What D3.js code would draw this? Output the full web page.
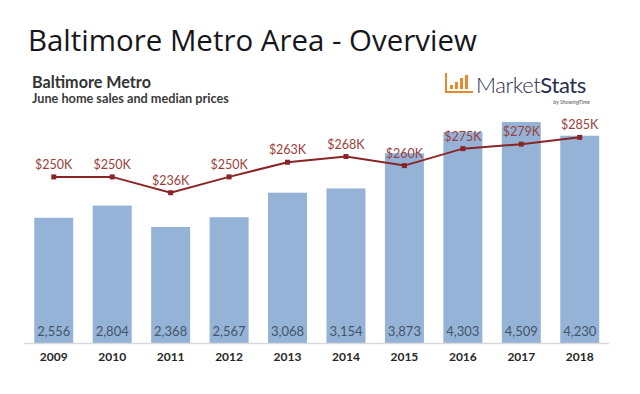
<!DOCTYPE html>
<html><head><meta charset="utf-8">
<script src="https://cdn.jsdelivr.net/npm/d3@7"></script>
<style>html,body{margin:0;padding:0;background:#fff;}svg{display:block;}</style>
</head><body>
<script>
const years = ["2009","2010","2011","2012","2013","2014","2015","2016","2017","2018"];
const sales = [2556, 2804, 2368, 2567, 3068, 3154, 3873, 4303, 4509, 4230];
const prices = [250, 250, 236, 250, 263, 268, 260, 275, 279, 285];
const salesLabels = ["2,556","2,804","2,368","2,567","3,068","3,154","3,873","4,303","4,509","4,230"];
const priceLabels = ["$250K","$250K","$236K","$250K","$263K","$268K","$260K","$275K","$279K","$285K"];

const W = 640, H = 394;
const svg = d3.select("body").append("svg").attr("width", W).attr("height", H);

function fitWidth(sel, target) {
  const fs = +sel.attr("font-size");
  const w = sel.node().getComputedTextLength();
  if (w > 0) sel.attr("font-size", fs * target / w);
}

const title = svg.append("text").attr("x", 28).attr("y", 51)
  .attr("font-family", "'Open Sans', sans-serif").attr("font-size", 27).attr("fill", "#16161c")
  .text("Baltimore Metro Area - Overview");
fitWidth(title, 449);

const st1 = svg.append("text").attr("x", 32).attr("y", 88)
  .attr("font-family", "Lato, sans-serif").attr("font-weight", "bold").attr("font-size", 15).attr("fill", "#333")
  .text("Baltimore Metro");
fitWidth(st1, 119);
const st2 = svg.append("text").attr("x", 32).attr("y", 103)
  .attr("font-family", "Lato, sans-serif").attr("font-weight", "bold").attr("font-size", 11.5).attr("fill", "#3a3a3a")
  .text("June home sales and median prices");
fitWidth(st2, 197);

// logo
const logo = svg.append("g");
logo.append("rect").attr("x", 445).attr("y", 73).attr("width", 2).attr("height", 20).attr("fill", "#e8892f");
logo.append("rect").attr("x", 445).attr("y", 91).attr("width", 28).attr("height", 2).attr("fill", "#e8892f");
[[450,85],[455,82],[460,78],[465,75]].forEach(([x,y]) => {
  logo.append("rect").attr("x", x).attr("y", y).attr("width", 3).attr("height", 89 - y).attr("fill", "#e8892f");
});
const lt = logo.append("text").attr("x", 476).attr("y", 93)
  .attr("font-family", "Lato, sans-serif").attr("font-size", 22).attr("fill", "#2b2d4b").attr("letter-spacing", -0.4);
lt.append("tspan").attr("font-weight", 300).text("Market");
lt.append("tspan").attr("font-weight", 400).text("Stats");
logo.append("text").attr("x", 590).attr("y", 104).attr("text-anchor", "end")
  .attr("font-family", "Lato, sans-serif").attr("font-style", "italic").attr("font-size", 5.5).attr("fill", "#555")
  .text("by ShowingTime");

// scales
const x = d3.scaleBand().domain(years).range([24.5, 609]).paddingInner(0.333).paddingOuter(0.167);
const y = d3.scaleLinear().domain([0, 5000]).range([343, 98]);
const y2 = d3.scaleLinear().domain([200, 300]).range([233.4, 120.4]);

svg.append("g").selectAll("rect").data(years).join("rect")
  .attr("x", d => x(d)).attr("width", x.bandwidth())
  .attr("y", (d, i) => y(sales[i])).attr("height", (d, i) => y(0) - y(sales[i]))
  .attr("fill", "#95b3d7");

svg.append("line").attr("x1", 24).attr("x2", 609).attr("y1", 343.5).attr("y2", 343.5)
  .attr("stroke", "#d9d9d9").attr("stroke-width", 1.5);

svg.append("g").selectAll("text").data(years).join("text")
  .attr("x", d => x(d) + x.bandwidth() / 2).attr("y", 336)
  .attr("text-anchor", "middle").attr("font-family", "Lato, sans-serif").attr("font-size", 13)
  .attr("fill", "#44546a").text((d, i) => salesLabels[i]);

const xAxis = d3.axisBottom(x).tickSize(0).tickPadding(0);
const ax = svg.append("g").attr("transform", "translate(0,352)").call(xAxis);
ax.select(".domain").remove();
ax.selectAll("text").attr("font-family", "Lato, sans-serif").attr("font-weight", "bold")
  .attr("font-size", 12).attr("fill", "#262626").attr("dy", "0.71em");

const line = d3.line().x((d, i) => x(years[i]) + x.bandwidth() / 2).y(d => y2(d));
svg.append("path").datum(prices).attr("d", line).attr("fill", "none")
  .attr("stroke", "#8b2424").attr("stroke-width", 2);
svg.append("g").selectAll("rect").data(prices).join("rect")
  .attr("x", (d, i) => x(years[i]) + x.bandwidth() / 2 - 2.5).attr("y", d => y2(d) - 2.5)
  .attr("width", 5).attr("height", 5).attr("fill", "#8b2424");
svg.append("g").selectAll("text").data(prices).join("text")
  .attr("x", (d, i) => x(years[i]) + x.bandwidth() / 2).attr("y", d => y2(d) - 8)
  .attr("text-anchor", "middle").attr("font-family", "Lato, sans-serif").attr("font-size", 12.5)
  .attr("fill", "#9a3e3b").text((d, i) => priceLabels[i]);
</script>
</body></html>
